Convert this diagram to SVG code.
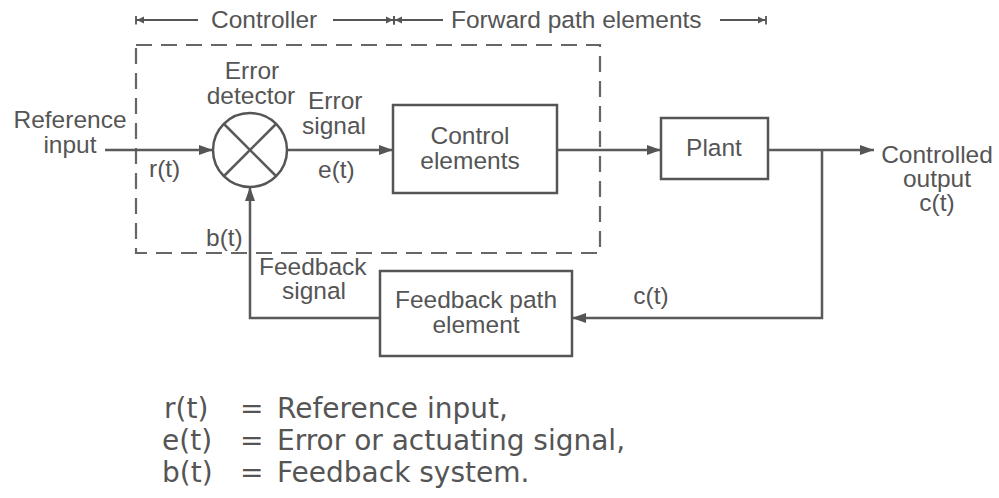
<svg xmlns="http://www.w3.org/2000/svg" width="999" height="498" viewBox="0 0 999 498">
  <style>
    .lbl { font-family: "Liberation Sans", Arial, sans-serif; font-size: 24.5px; fill: #555; }
    .mid { text-anchor: middle; }
    .box { fill: none; stroke: #555; stroke-width: 2.5; }
    .wire { fill: none; stroke: #5a5a5a; stroke-width: 2.5; }
    .dash { fill: none; stroke: #666; stroke-width: 2.2; stroke-dasharray: 16 9; }
    .dim { fill: none; stroke: #555; stroke-width: 2; }
    .legend { font-family: "DejaVu Sans", Verdana, sans-serif; font-size: 28px; fill: #555; }
  </style>
  <defs>
    <marker id="arrow" viewBox="0 0 14 10" refX="14" refY="5" markerWidth="14" markerHeight="10" markerUnits="userSpaceOnUse" orient="auto">
      <path d="M0,0 L14,5 L0,10 Z" fill="#555"/>
    </marker>
    <marker id="tick" viewBox="0 0 10 10" refX="9" refY="5" markerWidth="9" markerHeight="9" markerUnits="userSpaceOnUse" orient="auto">
      <path d="M0,1 L8,5 L0,9 Z M8,0 L10,0 L10,10 L8,10 Z" fill="#555"/>
    </marker>
  </defs>
  <rect width="999" height="498" fill="#fff"/>

  <!-- extent bars above the loop -->
  <g id="extents">
    <line class="dim" x1="198" y1="20" x2="136" y2="20" marker-end="url(#tick)"/>
    <text class="lbl" x="211" y="28">Controller</text>
    <line class="dim" x1="333" y1="20" x2="394" y2="20" marker-end="url(#tick)"/>
    <line class="dim" x1="443" y1="20" x2="394" y2="20" marker-end="url(#tick)"/>
    <text class="lbl" x="451" y="28">Forward path elements</text>
    <line class="dim" x1="720" y1="20" x2="766" y2="20" marker-end="url(#tick)"/>
  </g>

  <!-- controller boundary -->
  <rect id="controller-boundary" class="dash" x="136" y="45" width="464" height="208"/>

  <g id="connectors">
    <line class="wire" x1="105" y1="150" x2="213" y2="150" marker-end="url(#arrow)"/>
    <line class="wire" x1="287" y1="150" x2="393" y2="150" marker-end="url(#arrow)"/>
    <line class="wire" x1="557" y1="150" x2="661" y2="150" marker-end="url(#arrow)"/>
    <line class="wire" x1="768" y1="150" x2="874" y2="150" marker-end="url(#arrow)"/>
    <polyline class="wire" points="822,150 822,318 572,318" marker-end="url(#arrow)"/>
    <polyline class="wire" points="380,318 250,318 250,187" marker-end="url(#arrow)"/>
  </g>

  <g id="reference-input">
    <text class="lbl mid" x="70" y="128">Reference</text>
    <text class="lbl mid" x="70" y="153">input</text>
    <text class="lbl" x="149" y="177">r(t)</text>
  </g>

  <g id="error-detector">
    <circle cx="250" cy="150" r="37" fill="#fff" stroke="#555" stroke-width="2.5"/>
    <line class="wire" x1="224" y1="124" x2="276" y2="176"/>
    <line class="wire" x1="276" y1="124" x2="224" y2="176"/>
    <text class="lbl mid" x="252" y="79">Error</text>
    <text class="lbl mid" x="251" y="104">detector</text>
  </g>

  <g id="error-signal">
    <text class="lbl" x="308" y="109">Error</text>
    <text class="lbl" x="302" y="134">signal</text>
    <text class="lbl" x="318" y="178">e(t)</text>
  </g>

  <g id="control-elements">
    <rect class="box" x="393" y="105" width="164" height="88"/>
    <text class="lbl mid" x="470" y="144">Control</text>
    <text class="lbl mid" x="470" y="169">elements</text>
  </g>

  <g id="plant">
    <rect class="box" x="661" y="118" width="107" height="61"/>
    <text class="lbl mid" x="714" y="156">Plant</text>
  </g>

  <g id="controlled-output">
    <text class="lbl mid" x="937" y="163">Controlled</text>
    <text class="lbl mid" x="937" y="187">output</text>
    <text class="lbl mid" x="937" y="211">c(t)</text>
  </g>

  <g id="feedback-path-element">
    <rect class="box" x="380" y="271" width="192" height="85"/>
    <text class="lbl mid" x="476" y="308">Feedback path</text>
    <text class="lbl mid" x="476" y="333">element</text>
  </g>

  <g id="feedback-labels">
    <text class="lbl mid" x="651" y="304">c(t)</text>
    <text class="lbl" x="259" y="275">Feedback</text>
    <text class="lbl" x="282" y="299">signal</text>
    <text class="lbl" x="206" y="246">b(t)</text>
  </g>

  <g id="legend">
    <text class="legend" x="164" y="418">r(t)</text>
    <text class="legend" x="240" y="418">=</text>
    <text class="legend" x="277" y="418">Reference input,</text>
    <text class="legend" x="162" y="450">e(t)</text>
    <text class="legend" x="240" y="450">=</text>
    <text class="legend" x="277" y="450">Error or actuating signal,</text>
    <text class="legend" x="162" y="482">b(t)</text>
    <text class="legend" x="240" y="482">=</text>
    <text class="legend" x="277" y="482">Feedback system.</text>
  </g>
</svg>
